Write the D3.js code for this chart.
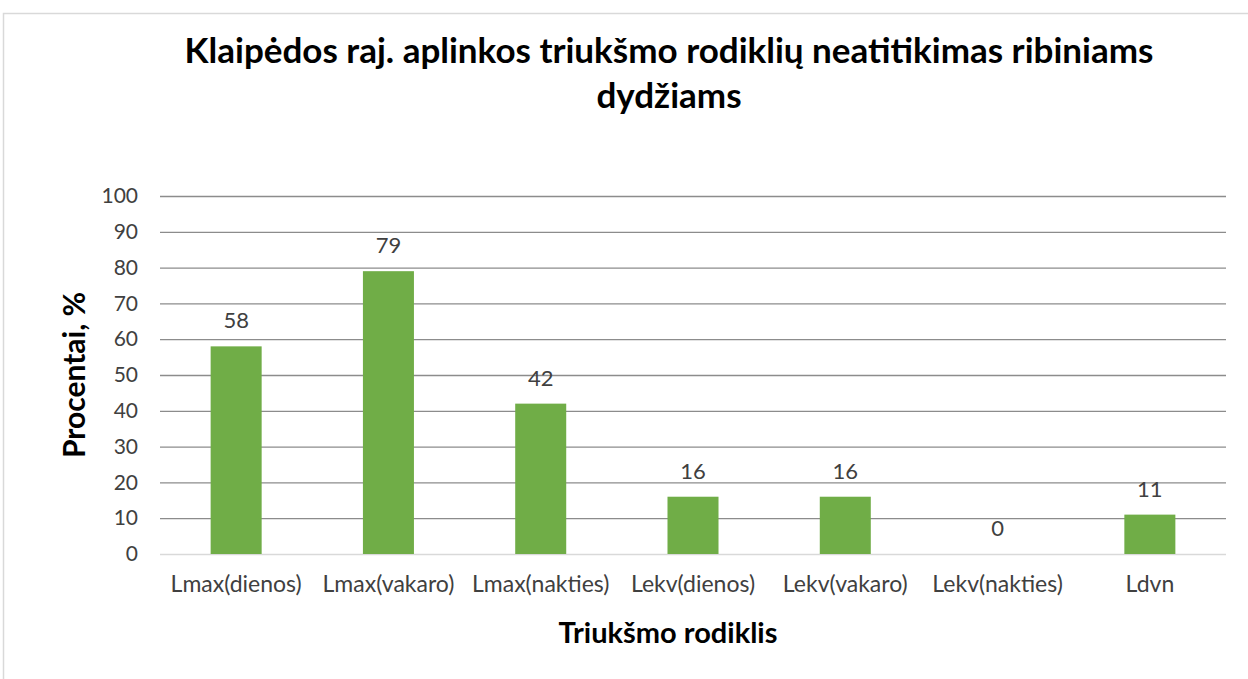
<!DOCTYPE html>
<html><head><meta charset="utf-8">
<script src="https://cdn.jsdelivr.net/npm/d3@7"></script>
<style>body{margin:0;background:#fff}svg{display:block}</style>
</head><body><svg id="c" width="1248" height="679"></svg>
<script>
const categories = ["Lmax(dienos)","Lmax(vakaro)","Lmax(nakties)","Lekv(dienos)","Lekv(vakaro)","Lekv(nakties)","Ldvn"];
const values = [58,79,42,16,16,0,11];
const yTicks = [0,10,20,30,40,50,60,70,80,90,100];
const titleLines = ["Klaipėdos raj. aplinkos triukšmo rodiklių neatitikimas ribiniams","dydžiams"];
const yTitle = "Procentai, %";
const xTitle = "Triukšmo rodiklis";

const svg = d3.select("#c");
const F = "Lato, 'Liberation Sans', sans-serif";
// frame
svg.append("rect").attr("x",3.5).attr("y",13.5).attr("width",1260).attr("height",700)
  .attr("fill","#fff").attr("stroke","#d9d9d9").attr("stroke-width",1.5);

const m = {l:160, r:1226, t:196, b:554};
const x = d3.scaleBand().domain(categories).range([m.l,m.r]).paddingInner(0.665).paddingOuter(0.3325);
const y = d3.scaleLinear().domain([0,100]).range([m.b,m.t]);

// grid
const yAxis = d3.axisLeft(y).tickValues(yTicks).tickSize(-(m.r-m.l)).tickPadding(22);
const gy = svg.append("g").attr("transform",`translate(${m.l},0)`).call(yAxis);
gy.select(".domain").remove();
gy.selectAll(".tick line").attr("stroke",d=>d===0?"#d9d9d9":"#8c8c8c").attr("stroke-width",1.3);
gy.selectAll(".tick text").attr("font-family",F).attr("font-size",21).attr("fill","#404040");

// bars
svg.selectAll(".bar").data(values).enter().append("rect")
  .attr("x",(d,i)=>x(categories[i])).attr("width",x.bandwidth())
  .attr("y",d=>y(d)).attr("height",d=>y(0)-y(d)).attr("fill","#70ad47");

// labels
svg.selectAll(".lbl").data(values).enter().append("text")
  .attr("x",(d,i)=>x(categories[i])+x.bandwidth()/2).attr("y",d=>y(d)-18)
  .attr("text-anchor","middle").attr("font-family",F).attr("font-size",22).attr("fill","#404040").text(d=>d);

// x axis labels
const xAxis = d3.axisBottom(x).tickSize(0).tickPadding(22);
const gx = svg.append("g").attr("transform",`translate(0,${m.b})`).call(xAxis);
gx.select(".domain").remove();
gx.selectAll(".tick text").attr("font-family",F).attr("font-size",23).attr("fill","#404040");

// titles
svg.selectAll(".title").data(titleLines).enter().append("text")
  .attr("x",669).attr("y",(d,i)=>63+i*45).attr("text-anchor","middle")
  .attr("font-family",F).attr("font-weight","bold").attr("font-size",35).attr("fill","#000").text(d=>d);
svg.append("text").attr("transform","translate(85,375) rotate(-90)").attr("text-anchor","middle")
  .attr("font-family",F).attr("font-weight","bold").attr("font-size",30).attr("fill","#000").text(yTitle);
svg.append("text").attr("x",668).attr("y",643).attr("text-anchor","middle")
  .attr("font-family",F).attr("font-weight","bold").attr("font-size",29).attr("fill","#000").text(xTitle);
</script></body></html>
